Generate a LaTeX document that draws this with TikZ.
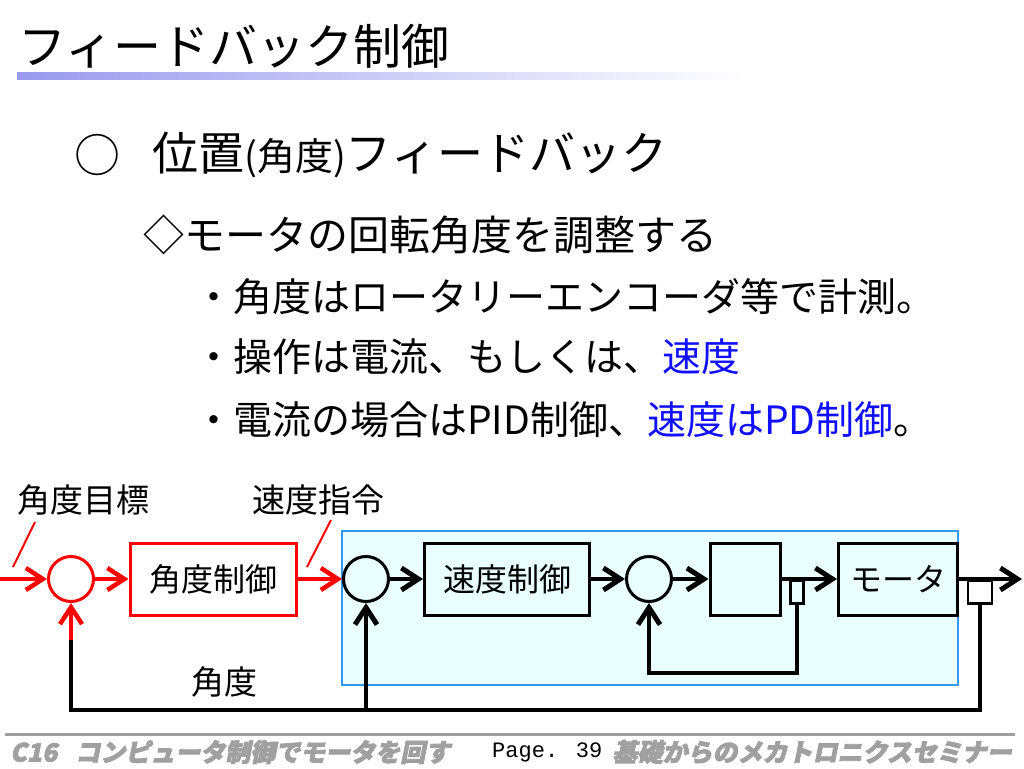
\documentclass[tikz,border=0pt]{standalone}
\usepackage{fontspec}
\setmainfont{Noto Sans CJK JP}
\newfontfamily\footjp[FakeSlant=0.2,FakeBold=3]{Noto Sans CJK JP}
\newfontfamily\footmono{Liberation Mono}
\usetikzlibrary{arrows.meta}
\definecolor{BoxFill}{HTML}{EAFFFF}
\definecolor{BoxLine}{HTML}{3399EE}
\definecolor{BarBlue}{HTML}{9999EE}
\definecolor{FootGray}{HTML}{A0A0A0}
\definecolor{TextBlue}{HTML}{1010FF}
\newcommand{\fs}[1]{\fontsize{#1}{#1}\selectfont}

\begin{document}
\begin{tikzpicture}[
        x=1pt, y=-1pt,
        MyText/.style={inner sep=0pt, anchor=west},
        MyBlock/.style={draw, line width=3pt, minimum width=166pt, minimum height=72pt, inner sep=0pt, font=\fs{32}},
        MySum/.style={draw, circle, line width=3pt, minimum size=45pt, inner sep=0pt},
        MySensor/.style={draw, line width=2.5pt, inner sep=0pt, anchor=north, minimum height=23pt},
        MyArrow/.style={-{Straight Barb[length=17pt, width=22pt, line width=5pt]}, line width=4pt},
        MyRedArrow/.style={-{Straight Barb[length=17pt, width=22pt, line width=4.5pt]}, line width=3.5pt, red},
        MyLine/.style={line width=4.5pt},
        ]
    \useasboundingbox (0,0) rectangle (1024,768);
    % title and bar
    \shade [left color=BarBlue, right color=white] (17,72) rectangle (745,79);
    \node [MyText, font=\fs{48}] (title) at (18,46) {フィードバック制御};
    % body text
    \node [font=\fs{46}, inner sep=0pt] (mark) at (97,155) {○};
    \node [MyText, font=\fs{46}] (t1) at (152,155) {位置{\fs{38}(角度)}フィードバック};
    \node [MyText, font=\fs{41}] (t2) at (143,235) {◇モータの回転角度を調整する};
    \node [MyText, font=\fs{39}] (t3) at (194,297) {・角度はロータリーエンコーダ等で計測。};
    \node [MyText, font=\fs{39}] (t4) at (194,357) {・操作は電流、もしくは、{\color{TextBlue}速度}};
    \node [MyText, font=\fs{39}] (t5) at (194,420) {・電流の場合はPID制御、{\color{TextBlue}速度はPD制御}。};
    % speed loop area
    \draw [BoxLine, fill=BoxFill, line width=1.5pt] (342,531) rectangle (958,685);
    % blocks
    \node [MySum, red] (s1) at (71,579) {};
    \node [MyBlock, draw=red, minimum width=166pt] (b1) at (213,579) {角度制御};
    \node [MySum] (s2) at (366,579) {};
    \node [MyBlock, minimum width=165pt] (b2) at (507,579) {速度制御};
    \node [MySum] (s3) at (649,579) {};
    \node [MyBlock, minimum width=70pt] (b3) at (745,579) {};
    \node [MyBlock, minimum width=119pt] (b4) at (898,579) {モータ};
    \node [MySensor, minimum width=13pt] (e1) at (797,579) {};
    \node [MySensor, minimum width=24pt] (e2) at (980,579) {};
    % labels
    \node [font=\fs{33}] (l1) at (83,500) {角度目標};
    \node [font=\fs{33}] (l2) at (318,500) {速度指令};
    \node [font=\fs{33}] (l3) at (224,682) {角度};
    \coordinate (in) at (0,579);
    \coordinate (out) at (1022,579);
    \coordinate (p1) at (35,522);
    \coordinate (q1) at (13,567);
    \coordinate (p2) at (331,520);
    \coordinate (q2) at (307,567);
    \coordinate (r1) at (71,640);
    % connectors
    \draw [red, line width=2pt] (p1) -- (q1);
    \draw [red, line width=2pt] (p2) -- (q2);
    \draw [MyRedArrow] (in) -- (s1.west);
    \draw [MyRedArrow] (s1.east) -- (b1.west);
    \draw [MyRedArrow] (b1.east) -- (s2.west);
    \draw [MyArrow] (s2.east) -- (b2.west);
    \draw [MyArrow] (b2.east) -- (s3.west);
    \draw [MyArrow] (s3.east) -- (b3.west);
    \draw [MyArrow] (b3.east) -- (b4.west);
    \draw [MyArrow] (b4.east) -- (out);
    \draw [MyLine] (e1.south) |- (649,673) -- ++(0,-20);
    \draw [MyArrow] (649,675) -- (s3.south);
    \draw [MyLine] (e2.south) |- (r1 |- 0,710) -- (r1);
    \draw [MyRedArrow] (r1) -- (s1.south);
    \draw [MyArrow] (366,712) -- (s2.south);
    % footer
    \draw [FootGray, line width=3pt] (5,734) -- (1015,734);
    \node [MyText, font=\footjp\bfseries\fs{25}, FootGray] (f1) at (10,752) {C16\hspace{18pt}コンピュータ制御でモータを回す};
    \node [MyText, font=\footmono\fs{22}] (f2) at (492,752) {Page. 39};
    \node [inner sep=0pt, anchor=east, font=\footjp\bfseries\fs{25}, FootGray] (f3) at (1012,752) {基礎からのメカトロニクスセミナー};
\end{tikzpicture}
\end{document}
